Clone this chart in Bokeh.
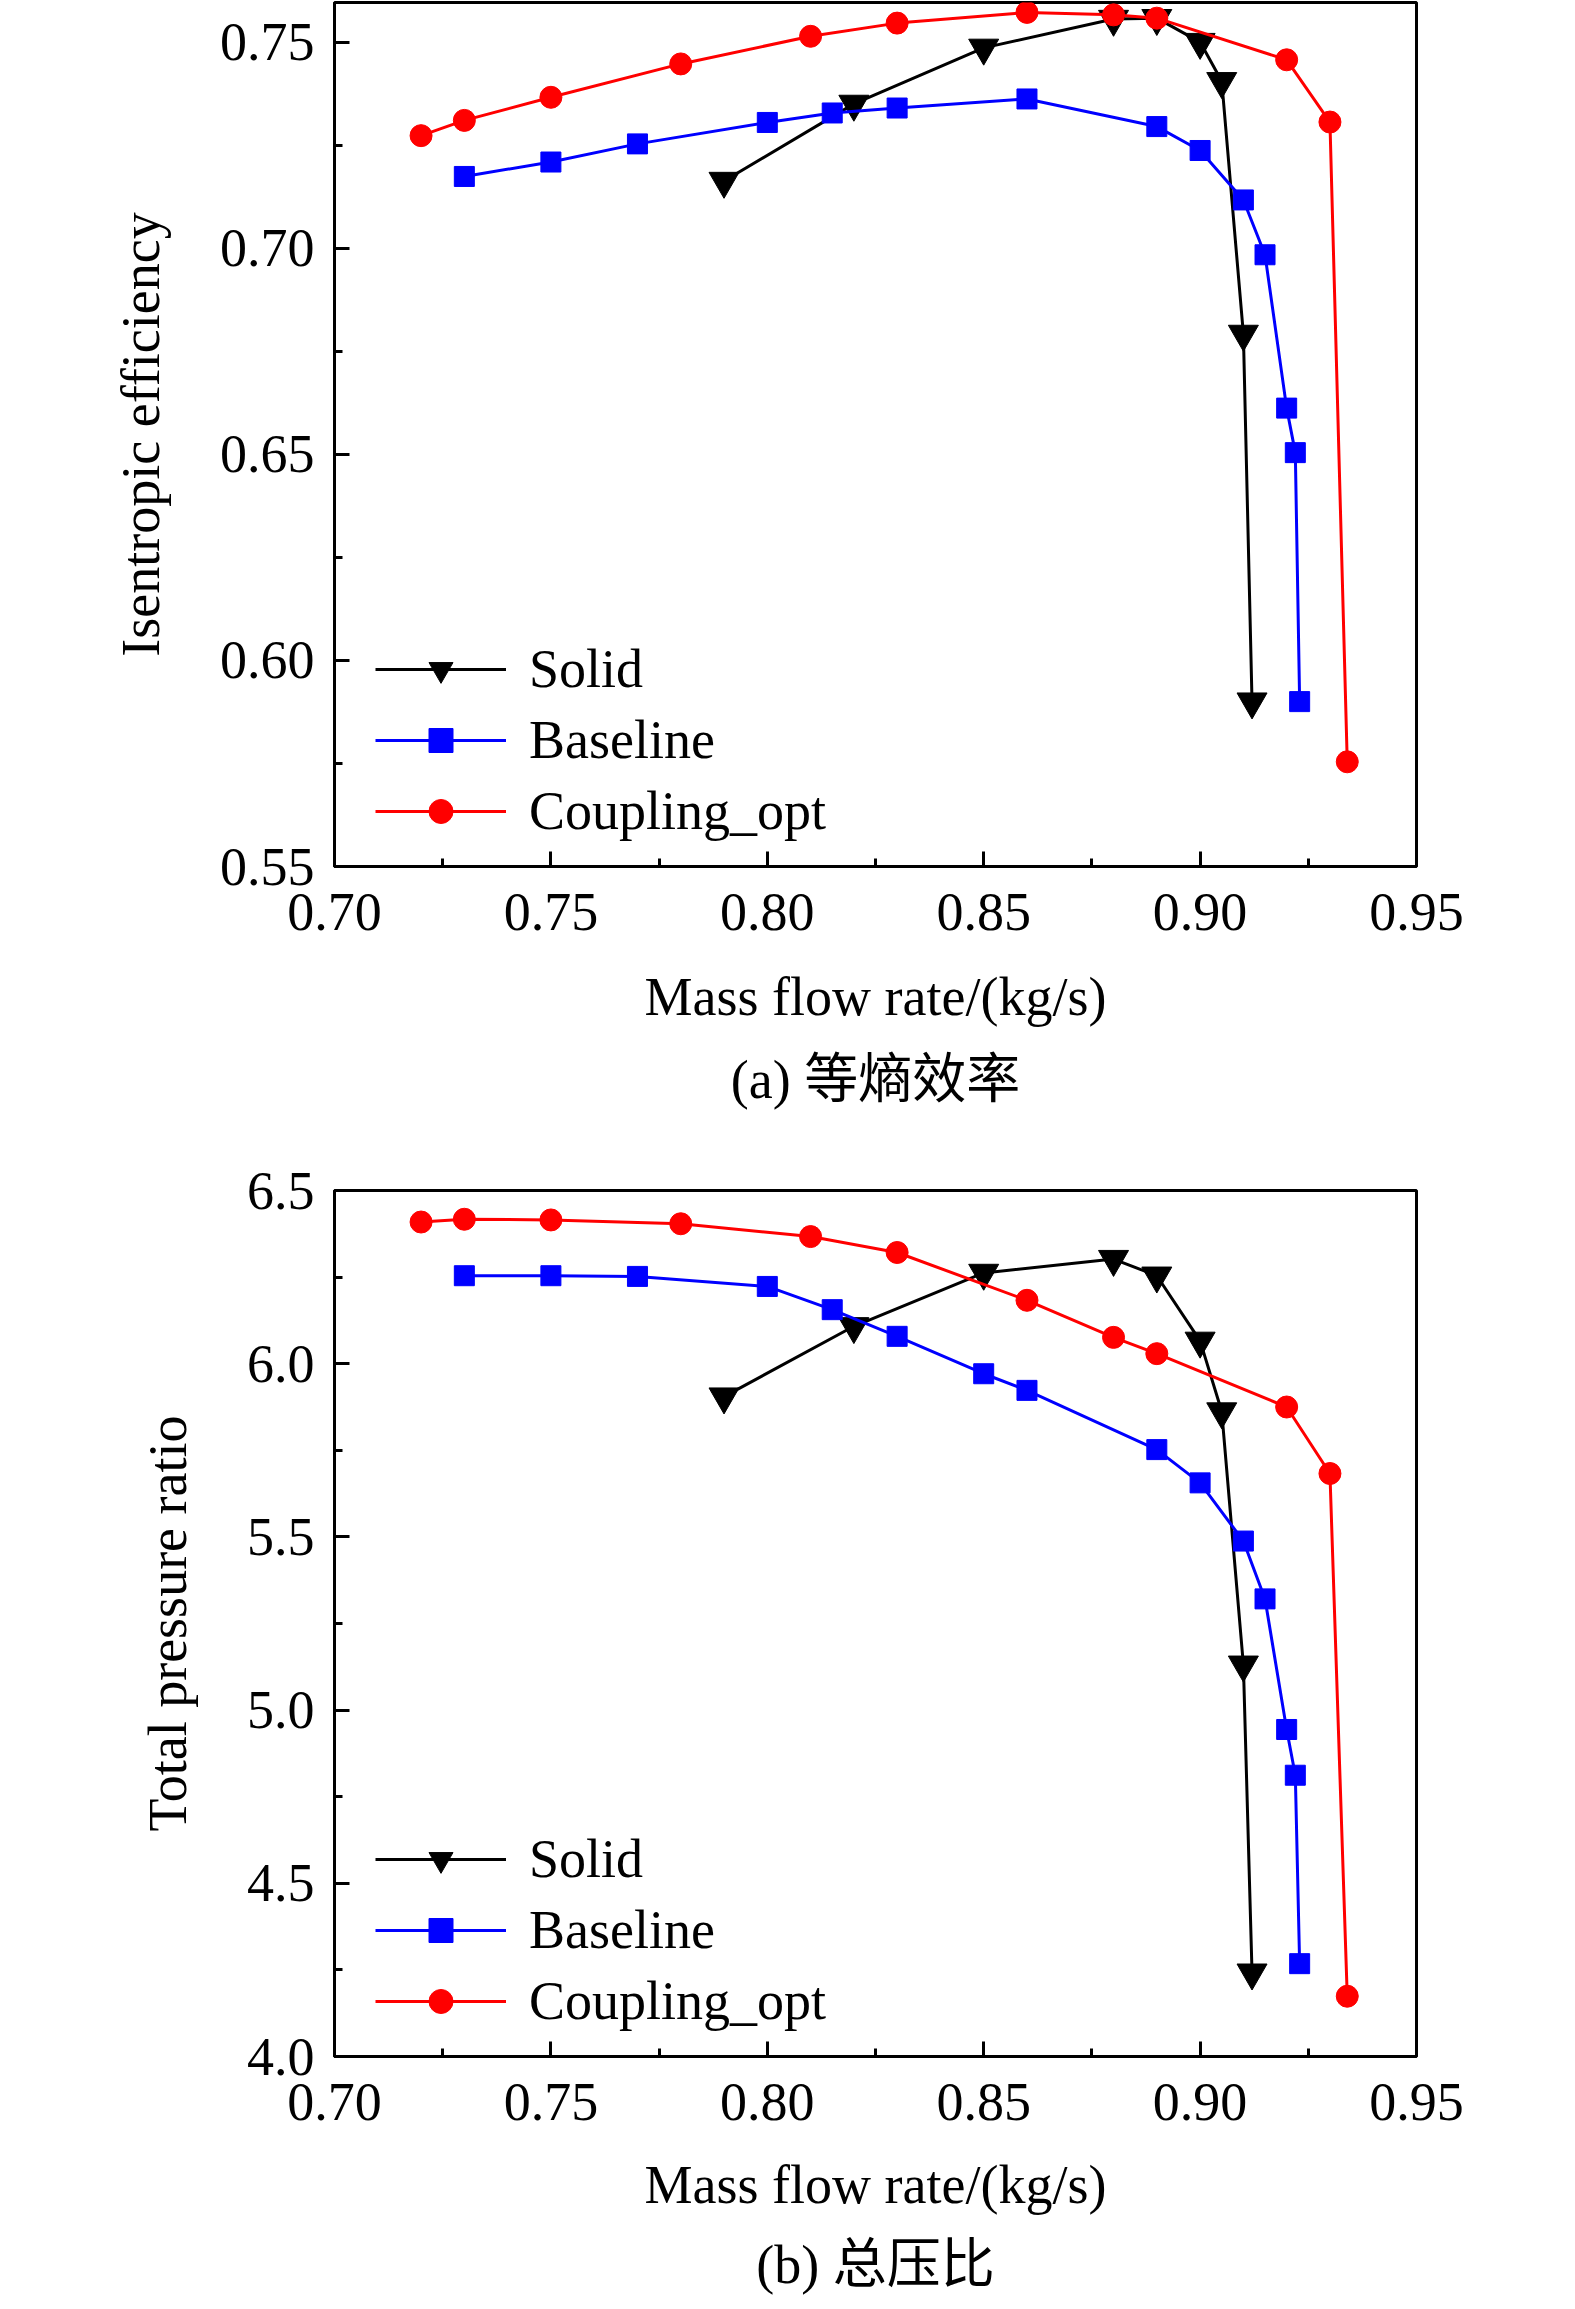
from bokeh.plotting import figure
from bokeh.models import (FixedTicker, NumeralTickFormatter, Legend, LegendItem,
                          Title, Range1d)
from bokeh.layouts import column
from bokeh.embed import file_html
from bokeh.resources import INLINE

# ---------------- data ----------------
# (a) isentropic efficiency
solid_x = [0.79, 0.82, 0.85, 0.88, 0.89, 0.90, 0.905, 0.91, 0.912]
solid_eff = [0.7163, 0.7350, 0.7486, 0.7556, 0.7558, 0.7500, 0.7405, 0.6792, 0.5900]

base_x_a = [0.73, 0.75, 0.77, 0.80, 0.815, 0.83, 0.86, 0.89, 0.90, 0.91, 0.915, 0.92, 0.922, 0.923]
base_eff = [0.7174, 0.7209, 0.7253, 0.7305, 0.7328, 0.7340, 0.7362, 0.7295, 0.7237, 0.7117,
            0.6984, 0.6612, 0.6504, 0.5900]

coup_x = [0.72, 0.73, 0.75, 0.78, 0.81, 0.83, 0.86, 0.88, 0.89, 0.92, 0.93, 0.934]
coup_eff = [0.7273, 0.7310, 0.7366, 0.7447, 0.7514, 0.7546, 0.7572, 0.7566, 0.7558, 0.7457,
            0.7306, 0.5754]

# (b) total pressure ratio
solid_pr = [5.905, 6.108, 6.262, 6.302, 6.254, 6.066, 5.862, 5.131, 4.242]

base_x_b = [0.73, 0.75, 0.77, 0.80, 0.815, 0.83, 0.85, 0.86, 0.89, 0.90, 0.91, 0.915, 0.92, 0.922, 0.923]
base_pr = [6.254, 6.254, 6.252, 6.223, 6.156, 6.079, 5.971, 5.923, 5.752, 5.656, 5.488, 5.321,
           4.944, 4.812, 4.268]

coup_pr = [6.409, 6.417, 6.415, 6.404, 6.367, 6.321, 6.183, 6.076, 6.029, 5.875, 5.683, 4.174]

x_ticks = [0.70, 0.75, 0.80, 0.85, 0.90, 0.95]
x_minor = [0.725, 0.775, 0.825, 0.875, 0.925]
eff_ticks = [0.55, 0.60, 0.65, 0.70, 0.75]
eff_minor = [0.575, 0.625, 0.675, 0.725]
pr_ticks = [4.0, 4.5, 5.0, 5.5, 6.0, 6.5]
pr_minor = [4.25, 4.75, 5.25, 5.75, 6.25]

names = ["Solid", "Baseline", "Coupling_opt"]
colors = ["#000000", "#0000FF", "#FF0000"]
markers = ["inverted_triangle", "square", "circle"]
msizes = [30, 20, 22]

SERIF = "Liberation Serif"
CAPFONT = "'Liberation Serif', 'Noto Sans CJK SC'"
FS = "54px"


def make_fig(height, top, bottom, y_lo, y_hi, yticks, yminor, yfmt, ylabel, caption, series,
             xlab_standoff, title_standoff):
    p = figure(width=1575, height=height, x_range=Range1d(0.70, 0.95),
               y_range=Range1d(y_lo, y_hi), output_backend="svg", toolbar_location=None,
               min_border_left=334, min_border_right=159, min_border_top=top,
               min_border_bottom=bottom)
    p.grid.visible = False
    p.outline_line_color = "black"
    p.outline_line_width = 3
    p.outline_line_alpha = 1

    p.xaxis.ticker = FixedTicker(ticks=x_ticks, minor_ticks=x_minor)
    p.xaxis.formatter = NumeralTickFormatter(format="0.00")
    p.yaxis.ticker = FixedTicker(ticks=yticks, minor_ticks=yminor)
    p.yaxis.formatter = NumeralTickFormatter(format=yfmt)
    p.xaxis.axis_label = "Mass flow rate/(kg/s)"
    p.yaxis.axis_label = ylabel
    for ax in (p.xaxis[0], p.yaxis[0]):
        ax.axis_line_width = 3
        ax.axis_line_color = "black"
        ax.major_tick_in = 15
        ax.major_tick_out = 0
        ax.minor_tick_in = 8
        ax.minor_tick_out = 0
        ax.major_tick_line_width = 3
        ax.minor_tick_line_width = 3
        ax.major_tick_line_color = "black"
        ax.minor_tick_line_color = "black"
        ax.major_label_text_font = SERIF
        ax.major_label_text_font_size = FS
        ax.major_label_text_color = "black"
        ax.axis_label_text_font = SERIF
        ax.axis_label_text_font_size = FS
        ax.axis_label_text_font_style = "normal"
        ax.axis_label_text_color = "black"
    p.xaxis.major_label_standoff = 27
    p.xaxis.axis_label_standoff = xlab_standoff
    p.yaxis.major_label_standoff = 20
    p.yaxis.axis_label_standoff = 46

    items = []
    for (xs, ys), name, c, m, s in zip(series, names, colors, markers, msizes):
        ln = p.line(xs, ys, line_color=c, line_width=3)
        sc = p.scatter(xs, ys, marker=m, size=s, fill_color=c, line_color=c)
        items.append(LegendItem(label=name, renderers=[ln, sc]))

    leg = Legend(items=items, location=(41, 24), background_fill_alpha=0,
                 border_line_alpha=0, glyph_width=131, glyph_height=60,
                 label_height=50, label_standoff=23, spacing=9, padding=0, margin=0,
                 label_text_font=SERIF, label_text_font_size=FS,
                 label_text_color="black")
    p.add_layout(leg)

    t = Title(text=caption, align="center", text_font=CAPFONT, text_font_size=FS,
              text_font_style="normal", text_color="black", standoff=title_standoff)
    p.add_layout(t, "below")
    return p


p1 = make_fig(1145, 2, 279, 0.55, 0.7596, eff_ticks, eff_minor, "0.00",
              "Isentropic efficiency", "(a) 等熵效率",
              [(solid_x, solid_eff), (base_x_a, base_eff), (coup_x, coup_eff)], 34, 36)
p2 = make_fig(1164, 45, 253, 4.0, 6.5, pr_ticks, pr_minor, "0.0",
              "Total pressure ratio", "(b) 总压比",
              [(solid_x, solid_pr), (base_x_b, base_pr), (coup_x, coup_pr)], 32, 30)

layout = column(p1, p2, spacing=0)
open("out.html", "w").write(file_html(layout, INLINE))
